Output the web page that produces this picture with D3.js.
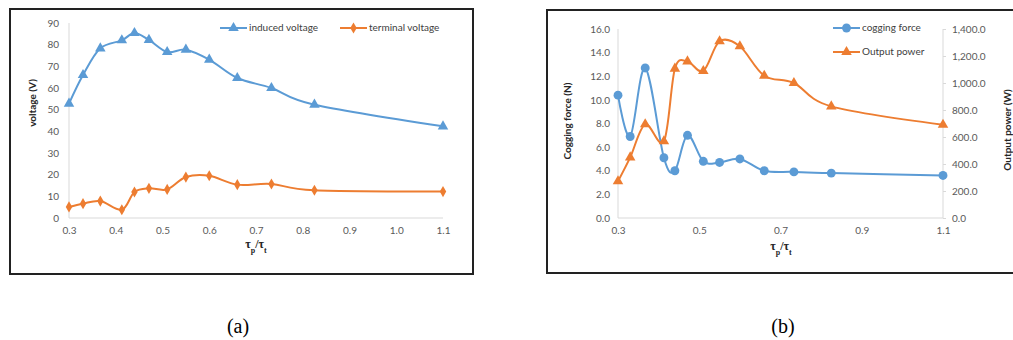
<!DOCTYPE html>
<html>
<head>
<meta charset="utf-8">
<script src="https://cdn.jsdelivr.net/npm/d3@7"></script>
<style>
  body { margin: 0; background: #fff; }
  .tick text { font-family: Lato, "Open Sans", sans-serif; font-size: 10px; fill: #595959; }
  .ttl { font-family: Lato, "Open Sans", sans-serif; font-size: 10px; font-weight: bold; fill: #262626; }
  .leg { font-family: Lato, "Open Sans", sans-serif; font-size: 10px; fill: #404040; }
  .cap { font-family: "Liberation Serif", "Times New Roman", serif; font-size: 20px; fill: #000; }
</style>
</head>
<body>
<svg id="svg" width="1013" height="340"></svg>
<script>
// tau_p / tau_t ratios (same for both panels)
var ratio = [0.3, 0.33, 0.367, 0.413, 0.44, 0.471, 0.51, 0.55, 0.6, 0.66, 0.733, 0.825, 1.1];
var inducedVoltage = [52.8, 66.0, 78.3, 82.0, 85.4, 82.2, 76.6, 77.7, 73.1, 64.6, 60.0, 52.3, 42.3];
var terminalVoltage = [5.1, 6.6, 7.8, 3.8, 12.0, 13.7, 13.2, 18.9, 19.5, 15.4, 15.7, 12.8, 12.2];
var coggingForce = [10.4, 6.9, 12.7, 5.1, 4.0, 7.0, 4.8, 4.7, 5.0, 4.0, 3.9, 3.8, 3.6];
var outputPower = [272, 449, 694, 568, 1106, 1160, 1089, 1309, 1272, 1054, 1000, 827, 691];

var ticksA_x = [0.3, 0.4, 0.5, 0.6, 0.7, 0.8, 0.9, 1.0, 1.1];
var ticksA_y = [0, 10, 20, 30, 40, 50, 60, 70, 80, 90];
var ticksB_x = [0.3, 0.5, 0.7, 0.9, 1.1];
var ticksB_yl = [0, 2, 4, 6, 8, 10, 12, 14, 16];
var ticksB_yr = [0, 200, 400, 600, 800, 1000, 1200, 1400];

var blue = "#5b9bd5", orange = "#ed7d31", axisGray = "#d9d9d9";

var svg = d3.select("svg");

// panel frames
svg.append("rect").attr("x", 10).attr("y", 9).attr("width", 463).attr("height", 265)
    .attr("fill", "none").attr("stroke", "#222").attr("stroke-width", 2);
svg.append("rect").attr("x", 547).attr("y", 10).attr("width", 480).attr("height", 263)
    .attr("fill", "none").attr("stroke", "#222").attr("stroke-width", 2);

var curve = d3.curveCardinal.tension(0);
var tri = d3.symbol(d3.symbolTriangle).size(48);
var dia = d3.symbol(d3.symbolDiamond).size(36);
var circ = d3.symbol(d3.symbolCircle).size(62);

function drawSeries(g, x, y, vals, color, sym) {
    var pts = ratio.map(function(r, i) { return [r, vals[i]]; });
    var line = d3.line().x(function(d) { return x(d[0]); }).y(function(d) { return y(d[1]); }).curve(curve);
    g.append("path").datum(pts).attr("d", line)
        .attr("fill", "none").attr("stroke", color).attr("stroke-width", 2);
    g.selectAll(null).data(pts).enter().append("path")
        .attr("d", sym)
        .attr("transform", function(d) { return "translate(" + x(d[0]) + "," + y(d[1]) + ")"; })
        .attr("fill", color);
}

function legendItem(x0, yy, color, sym, label) {
    svg.append("line").attr("x1", x0).attr("x2", x0 + 27).attr("y1", yy).attr("y2", yy)
        .attr("stroke", color).attr("stroke-width", 2);
    svg.append("path").attr("d", sym).attr("transform", "translate(" + (x0 + 13.5) + "," + yy + ")")
        .attr("fill", color);
    svg.append("text").attr("class", "leg").attr("x", x0 + 29).attr("y", yy)
        .attr("dominant-baseline", "middle").text(label);
}

function xTitle(cx, cy) {
    var t = svg.append("text").attr("class", "ttl").attr("x", cx).attr("y", cy)
        .attr("text-anchor", "middle").style("font-family", "'Liberation Serif', serif").style("font-size", "12px");
    t.append("tspan").text("τ");
    t.append("tspan").attr("baseline-shift", "sub").style("font-size", "8px").text("p");
    t.append("tspan").text("/τ");
    t.append("tspan").attr("baseline-shift", "sub").style("font-size", "8px").text("t");
}

function styleAxis(g) {
    g.select(".domain").remove();
    g.selectAll(".tick line").remove();
}

// ---------- panel (a) ----------
var xa = d3.scaleLinear().domain([0.3, 1.1]).range([69, 443]);
var ya = d3.scaleLinear().domain([0, 90]).range([218, 23]);

svg.append("line").attr("x1", 69).attr("x2", 69).attr("y1", 23).attr("y2", 218).attr("stroke", axisGray);
svg.append("line").attr("x1", 69).attr("x2", 443).attr("y1", 218).attr("y2", 218).attr("stroke", axisGray);

svg.append("g").attr("transform", "translate(0,218)")
    .call(d3.axisBottom(xa).tickValues(ticksA_x).tickFormat(d3.format(".1f")).tickSize(0).tickPadding(9))
    .call(styleAxis);
svg.append("g").attr("transform", "translate(69,0)")
    .call(d3.axisLeft(ya).tickValues(ticksA_y).tickFormat(d3.format("d")).tickSize(0).tickPadding(10))
    .call(styleAxis);

var ga = svg.append("g");
drawSeries(ga, xa, ya, inducedVoltage, blue, tri);
drawSeries(ga, xa, ya, terminalVoltage, orange, dia);

svg.append("text").attr("class", "ttl").attr("transform", "translate(36,103) rotate(-90)")
    .attr("text-anchor", "middle").text("voltage (V)");
xTitle(256, 248);

legendItem(220, 28, blue, tri, "induced voltage");
legendItem(340, 28, orange, dia, "terminal voltage");

// ---------- panel (b) ----------
var xb = d3.scaleLinear().domain([0.3, 1.1]).range([618, 943]);
var ybl = d3.scaleLinear().domain([0, 16]).range([218, 29]);
var ybr = d3.scaleLinear().domain([0, 1400]).range([218, 29]);

svg.append("line").attr("x1", 618).attr("x2", 618).attr("y1", 29).attr("y2", 218).attr("stroke", axisGray);
svg.append("line").attr("x1", 943).attr("x2", 943).attr("y1", 29).attr("y2", 218).attr("stroke", axisGray);
svg.append("line").attr("x1", 618).attr("x2", 943).attr("y1", 218).attr("y2", 218).attr("stroke", axisGray);

svg.append("g").attr("transform", "translate(0,218)")
    .call(d3.axisBottom(xb).tickValues(ticksB_x).tickFormat(d3.format(".1f")).tickSize(0).tickPadding(9))
    .call(styleAxis);
svg.append("g").attr("transform", "translate(618,0)")
    .call(d3.axisLeft(ybl).tickValues(ticksB_yl).tickFormat(d3.format(".1f")).tickSize(0).tickPadding(8))
    .call(styleAxis);
var gr = svg.append("g").attr("transform", "translate(943,0)")
    .call(d3.axisRight(ybr).tickValues(ticksB_yr).tickFormat(d3.format(",.1f")).tickSize(3).tickPadding(6));
gr.select(".domain").remove();
gr.selectAll(".tick line").attr("stroke", axisGray);

var gb = svg.append("g");
drawSeries(gb, xb, ybl, coggingForce, blue, circ);
drawSeries(gb, xb, ybr, outputPower, orange, tri);

svg.append("text").attr("class", "ttl").attr("transform", "translate(571,121) rotate(-90)")
    .attr("text-anchor", "middle").text("Cogging force (N)");
svg.append("text").attr("class", "ttl").attr("transform", "translate(1011,130) rotate(-90)")
    .attr("text-anchor", "middle").text("Output power (W)");
xTitle(781, 250);

legendItem(833, 28, blue, circ, "cogging force");
legendItem(833, 52, orange, tri, "Output power");

// captions
svg.append("text").attr("class", "cap").attr("x", 238).attr("y", 333).attr("text-anchor", "middle").text("(a)");
svg.append("text").attr("class", "cap").attr("x", 783).attr("y", 333).attr("text-anchor", "middle").text("(b)");
</script>
</body>
</html>
